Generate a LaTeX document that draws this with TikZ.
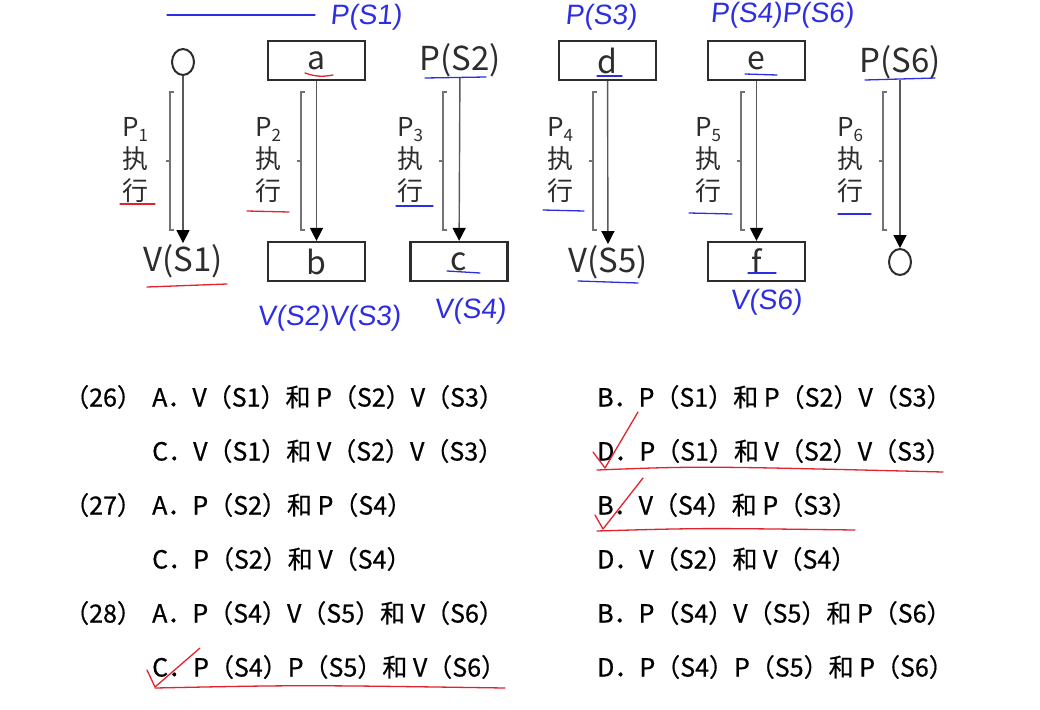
\documentclass[tikz,border=0pt]{standalone}
\usepackage{fontspec}
\setmainfont{Noto Sans CJK SC}
\newfontfamily\optfont{Noto Sans CJK SC}[FakeBold=0.6]
\newfontfamily\handfont{Liberation Sans}[FakeSlant=0.1]
\usetikzlibrary{arrows.meta, positioning, shapes.geometric}
\definecolor{ink}{RGB}{45,45,45}
\definecolor{penblue}{RGB}{45,45,225}
\definecolor{penred}{RGB}{225,35,45}
\newcommand\psub[1]{\raisebox{-.35ex}{\fontsize{17}{17}\selectfont #1}}

\begin{document}
\begin{tikzpicture}[x=1pt,y=-1pt,
  box/.style={draw=ink,line width=2.2pt,minimum width=97pt,minimum height=39pt,
              inner sep=0pt,text=ink,font=\fontsize{32}{36}\selectfont},
  lbl/.style={inner sep=1pt,text=ink,font=\fontsize{33}{36}\selectfont},
  ring/.style={ellipse,draw=ink,line width=2pt,minimum width=22pt,minimum height=26pt,inner sep=0pt},
  runlbl/.style={align=center,inner sep=0pt,text=ink,font=\fontsize{26}{32}\selectfont},
  brk/.style={draw=black!55,line width=1.1pt},
  flow/.style={-{Triangle[length=13pt,width=13pt,black]},draw=black!65,line width=1.4pt},
  opt/.style={anchor=west,inner sep=0pt,text=black,font=\optfont\fontsize{25}{28}\selectfont},
  hand/.style={inner sep=0pt,text=penblue,font=\handfont\fontsize{28}{30}\selectfont},
  bluepen/.style={draw=penblue,line width=1.3pt,line cap=round},
  redpen/.style={draw=penred,line width=1.3pt,line cap=round,line join=round}
]
\useasboundingbox (0,0) rectangle (1040,709);

% top row
\node[ring] (o1)  at (183,62) {};
\node[box]  (a)   at (316.5,60.5) {a};
\node[lbl]  (ps2) at (460,60) {P(S2)};
\node[box]  (d)   at (607.5,60.5) {d};
\node[box]  (e)   at (756.5,60.5) {e};
\node[lbl]  (ps6) at (900,62) {P(S6)};

% bottom row
\node[lbl]  (vs1) at (183,261) {V(S1)};
\node[box]  (b)   at (316.5,261.5) {b};
\node[box]  (c)   at (459,261.5) {c};
\node[lbl]  (vs5) at (608,262) {V(S5)};
\node[box]  (f)   at (756.5,261.5) {f};
\node[ring] (o6)  at (900,262) {};

\draw[flow] (o1)--(vs1);  \draw[flow] (a)--(b);   \draw[flow] (ps2)--(c);
\draw[flow] (d)--(vs5);   \draw[flow] (e)--(f);   \draw[flow] (ps6)--(o6);

% process labels and brackets
\node[runlbl] (ex1) at (135,160) {P\psub{1}\\执\\行};
\node[runlbl] (ex2) at (268,160) {P\psub{2}\\执\\行};
\node[runlbl] (ex3) at (410,160) {P\psub{3}\\执\\行};
\node[runlbl] (ex4) at (560,160) {P\psub{4}\\执\\行};
\node[runlbl] (ex5) at (708,160) {P\psub{5}\\执\\行};
\node[runlbl] (ex6) at (850,160) {P\psub{6}\\执\\行};
\draw[brk] (174,92)--(170,92)--(170,230)--(174,230) (170,161)--(166,161);
\draw[brk] (305,92)--(301,92)--(301,230)--(305,230) (301,161)--(297,161);
\draw[brk] (447,92)--(443,92)--(443,230)--(447,230) (443,161)--(439,161);
\draw[brk] (597,92)--(593,92)--(593,230)--(597,230) (593,161)--(589,161);
\draw[brk] (745,92)--(741,92)--(741,230)--(745,230) (741,161)--(737,161);
\draw[brk] (887,92)--(883,92)--(883,230)--(887,230) (883,161)--(879,161);

% options
\node[opt] (q26) at (64,397) {（26）};
\node[opt] (q27) at (64,505) {（27）};
\node[opt] (q28) at (64,613) {（28）};
\node[opt] (o26a) at (152,397) {A．V（S1）和 P（S2）V（S3）};
\node[opt] (o26b) at (597,397) {B．P（S1）和 P（S2）V（S3）};
\node[opt] (o26c) at (152,451) {C．V（S1）和 V（S2）V（S3）};
\node[opt] (o26d) at (597,451) {D．P（S1）和 V（S2）V（S3）};
\node[opt] (o27a) at (152,505) {A．P（S2）和 P（S4）};
\node[opt] (o27b) at (597,505) {B．V（S4）和 P（S3）};
\node[opt] (o27c) at (152,559) {C．P（S2）和 V（S4）};
\node[opt] (o27d) at (597,559) {D．V（S2）和 V（S4）};
\node[opt] (o28a) at (152,613) {A．P（S4）V（S5）和 V（S6）};
\node[opt] (o28b) at (597,613) {B．P（S4）V（S5）和 P（S6）};
\node[opt] (o28c) at (152,667) {C．P（S4）P（S5）和 V（S6）};
\node[opt] (o28d) at (597,667) {D．P（S4）P（S5）和 P（S6）};

% handwritten notes
\node[hand] (h1) at (366,17)  {P(S1)};
\node[hand] (h3) at (601,17)  {P(S3)};
\node[hand] (h4) at (782,15)  {P(S4)P(S6)};
\node[hand] (h5) at (329,318) {V(S2)V(S3)};
\node[hand] (h6) at (470,311) {V(S4)};
\node[hand] (h7) at (766,302) {V(S6)};
\draw[bluepen] (167,15)--(315,15);
\draw[bluepen] (425,78)--(486,77);  \draw[bluepen] (597,76)--(622,76);
\draw[bluepen] (745,74)--(777,75);  \draw[bluepen] (865,80)--(935,78);
\draw[bluepen] (447,271)--(480,273); \draw[bluepen] (748,273)--(776,273);
\draw[bluepen] (578,281)--(638,283);
\draw[bluepen] (396,206)--(433,206); \draw[bluepen] (543,210)--(584,211);
\draw[bluepen] (689,213)--(732,214); \draw[bluepen] (838,214)--(871,214);
\draw[redpen] (305,73) to[bend right=15] (333,75);
\draw[redpen] (120,204)--(155,204); \draw[redpen] (247,211)--(289,212);
\draw[redpen] (147,287)--(227,284);
\draw[redpen] (593,452)--(605,468)--(638,412);
\draw[redpen] (597,470) .. controls (700,466) .. (943,472);
\draw[redpen] (595,515)--(603,529)--(643,478);
\draw[redpen] (597,531) .. controls (700,528) .. (855,530);
\draw[redpen] (147,670)--(155,687)--(200,648);
\draw[redpen] (155,688) .. controls (300,685) .. (505,688);
\end{tikzpicture}
\end{document}
